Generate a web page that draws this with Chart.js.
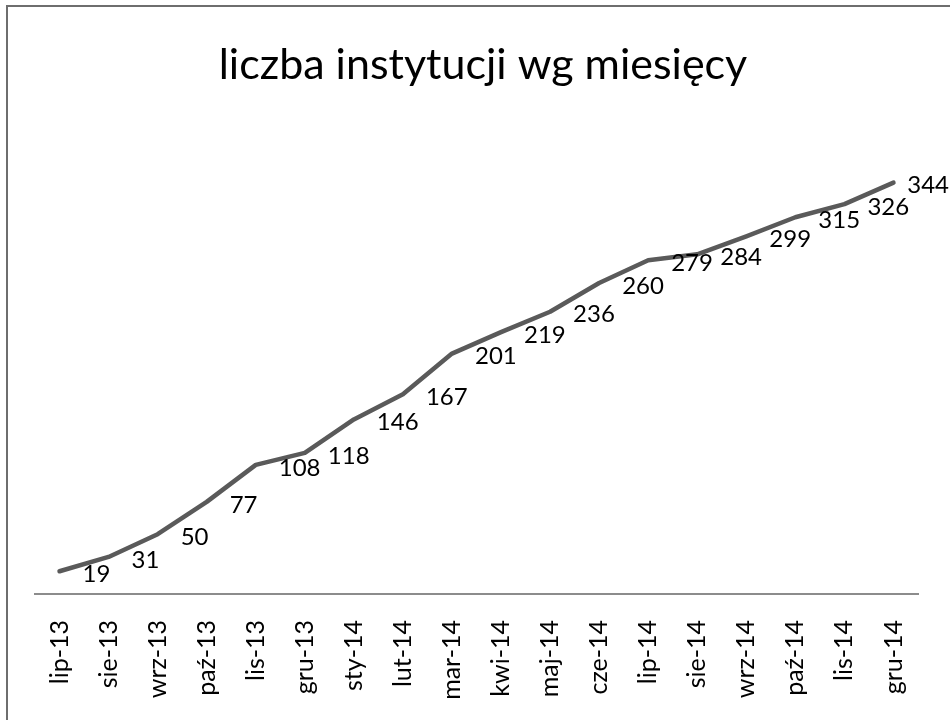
<!DOCTYPE html>
<html>
<head>
<meta charset="utf-8">
<script src="https://cdn.jsdelivr.net/npm/chart.js@4/dist/chart.umd.min.js"></script>
<style>
  html, body { margin: 0; padding: 0; background: #ffffff; }
  #wrap { position: relative; width: 950px; height: 720px; }
</style>
</head>
<body>
<div id="wrap"><canvas id="c" width="950" height="720"></canvas></div>
<script>
const chartTitle = 'liczba instytucji wg miesięcy';
const categories = ['lip-13','sie-13','wrz-13','paź-13','lis-13','gru-13','sty-14','lut-14','mar-14','kwi-14','maj-14','cze-14','lip-14','sie-14','wrz-14','paź-14','lis-14','gru-14'];
const values = [19, 31, 50, 77, 108, 118, 146, 167, 201, 219, 236, 260, 279, 284, 299, 315, 326, 344];
const yMin = 0;
const yMax = 400;

const FONT = 'Lato, "Open Sans", sans-serif';

const frame = {
  id: 'frame',
  beforeDraw(chart) {
    const ctx = chart.ctx;
    ctx.save();
    ctx.fillStyle = '#ffffff';
    ctx.fillRect(0, 0, chart.width, chart.height);
    ctx.strokeStyle = '#6e6e6e';
    ctx.lineWidth = 2;
    ctx.beginPath();
    ctx.moveTo(7, chart.height);
    ctx.lineTo(7, 6);
    ctx.lineTo(chart.width, 6);
    ctx.stroke();
    ctx.restore();
  }
};

const valueLabels = {
  id: 'valueLabels',
  afterDatasetsDraw(chart) {
    const ctx = chart.ctx;
    const meta = chart.getDatasetMeta(0);
    const ds = chart.data.datasets[0];
    ctx.save();
    ctx.font = '24px ' + FONT;
    ctx.fillStyle = '#000000';
    ctx.textAlign = 'left';
    ctx.textBaseline = 'middle';
    meta.data.forEach((pt, i) => {
      const txt = String(ds.data[i]);
      const w = ctx.measureText(txt).width;
      let x = pt.x + 23;
      if (x + w > chart.width - 1) x = chart.width - 1 - w;
      ctx.fillText(txt, x, pt.y + 3);
    });
    ctx.restore();
  }
};

new Chart(document.getElementById('c'), {
  type: 'line',
  data: {
    labels: categories,
    datasets: [{
      data: values,
      borderColor: '#5a5a5a',
      borderWidth: 4.5,
      pointRadius: 0,
      tension: 0,
      fill: false,
      borderJoinStyle: 'round',
      borderCapStyle: 'round'
    }]
  },
  options: {
    responsive: false,
    animation: false,
    devicePixelRatio: 1,
    layout: { padding: { left: 35, right: 19, top: 0, bottom: 0 } },
    plugins: {
      legend: { display: false },
      tooltip: { enabled: false },
      title: {
        display: true,
        text: chartTitle,
        color: '#000000',
        font: { family: FONT, size: 43, weight: 'normal' },
        padding: { top: 39, bottom: 25 }
      }
    },
    scales: {
      x: {
        offset: true,
        grid: { display: false, drawTicks: false },
        border: { display: true, color: '#8c8c8c', width: 2 },
        ticks: {
          color: '#000000',
          font: { family: FONT, size: 25 },
          minRotation: 90,
          maxRotation: 90,
          autoSkip: false,
          padding: 26
        },
        afterFit(scale) { scale.height = 126; }
      },
      y: {
        display: false,
        min: yMin,
        max: yMax
      }
    }
  },
  plugins: [frame, valueLabels]
});
</script>
</body>
</html>
